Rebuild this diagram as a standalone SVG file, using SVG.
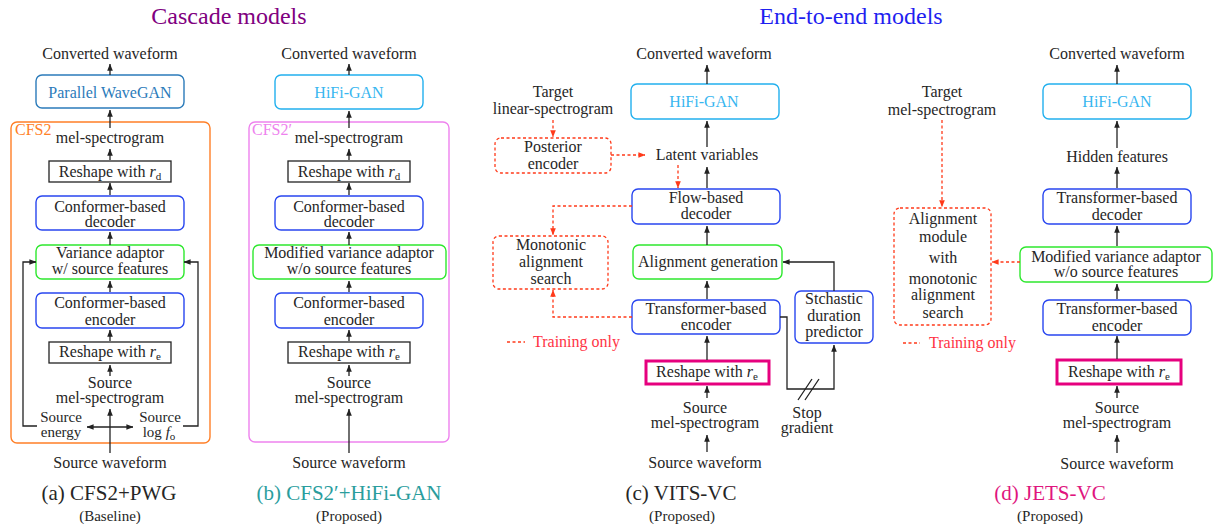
<svg xmlns="http://www.w3.org/2000/svg" width="1214" height="524" viewBox="0 0 1214 524" font-family="'Liberation Serif', 'DejaVu Serif', serif">
<style>
text{font-family:'Liberation Serif','DejaVu Serif',serif;font-size:16px;fill:#262626;text-anchor:middle}
.st{text-anchor:start}
.cap{font-size:21px}
.sub{font-size:15px}
.ttl{font-size:24px}
.sm{font-size:15px}
.box{fill:#fff;stroke-width:1.4}
.blue{stroke:#2846f0}
.green{stroke:#2ee82e}
.cyan{stroke:#22b0ee}
.pwg{stroke:#2b7bba}
.blk{stroke:#222;stroke-width:1.3}
.pink{stroke:#e6007e;stroke-width:3}
.red{fill:#fff;stroke:#ff3a1a;stroke-width:1.3;stroke-dasharray:3 2.5}
.ar{fill:none;stroke:#222;stroke-width:1.3;marker-end:url(#ah)}
.rar{fill:none;stroke:#ff3a1a;stroke-width:1.3;stroke-dasharray:3 2.5;marker-end:url(#rah)}
.ln{fill:none;stroke:#222;stroke-width:1.3}
.i{font-style:italic}
.s{font-size:11px}
</style>
<defs>
<marker id="ah" viewBox="0 0 10 8" refX="9.5" refY="4" markerWidth="7" markerHeight="6" markerUnits="userSpaceOnUse" orient="auto-start-reverse"><path d="M0,0 L10,4 L0,8 z" fill="#222"/></marker>
<marker id="rah" viewBox="0 0 10 8" refX="9.5" refY="4" markerWidth="7" markerHeight="6" markerUnits="userSpaceOnUse" orient="auto"><path d="M0,0 L10,4 L0,8 z" fill="#ff3a1a"/></marker>
</defs>
<rect width="1214" height="524" fill="#fff"/>
<text class="ttl" x="229" y="24" style="fill:#800080">Cascade models</text>
<text class="ttl" x="851" y="24" style="fill:#1f1ff0">End-to-end models</text>

<!-- (a) -->
<g id="a-cfs2"><rect x="11" y="122" width="199" height="321" rx="6" fill="none" stroke="#ff7f27" stroke-width="1.4"/><text class="st" x="15" y="135" style="fill:#ff7f27">CFS2</text></g>
<g id="a-out"><text x="110" y="59">Converted waveform</text></g>
<g id="a-pwg"><rect class="box pwg" x="36" y="75" width="148" height="33" rx="6"/><text x="110" y="98" style="fill:#2b7bba">Parallel WaveGAN</text></g>
<g id="a-mel"><text x="110" y="143">mel-spectrogram</text></g>
<g id="a-rd"><rect class="box blk" x="49" y="161" width="122" height="21"/><text x="110" y="177">Reshape with <tspan class="i">r</tspan><tspan class="s" dy="3">d</tspan></text></g>
<g id="a-dec"><rect class="box blue" x="36" y="196" width="148" height="34" rx="6"/><text x="110" y="212">Conformer-based</text><text x="110" y="227">decoder</text></g>
<g id="a-va"><rect class="box green" x="36" y="245" width="148" height="34" rx="6"/><text x="110" y="258">Variance adaptor</text><text x="110" y="274">w/ source features</text></g>
<g id="a-enc"><rect class="box blue" x="36" y="293" width="148" height="35" rx="6"/><text x="110" y="308">Conformer-based</text><text x="110" y="325">encoder</text></g>
<g id="a-re"><rect class="box blk" x="49" y="342" width="122" height="21"/><text x="110" y="357">Reshape with <tspan class="i">r</tspan><tspan class="s" dy="3">e</tspan></text></g>
<g id="a-src"><text x="110" y="388">Source</text><text x="110" y="403">mel-spectrogram</text></g>
<g id="a-en"><text class="sm" x="61" y="422">Source</text><text class="sm" x="61" y="437">energy</text></g>
<g id="a-f0"><text class="sm" x="160" y="422">Source</text><text class="sm" x="159" y="437">log <tspan class="i">f</tspan><tspan class="s" dy="3">o</tspan></text></g>
<g id="a-wav"><text x="110" y="468">Source waveform</text></g>
<g id="a-cap"><text class="cap" x="109" y="500">(a) CFS2+PWG</text><text class="sub" x="110" y="521">(Baseline)</text></g>

<!-- (b) -->
<g id="b-cfs2"><rect x="249" y="122" width="200" height="320" rx="6" fill="none" stroke="#ee82ee" stroke-width="1.4"/><text class="st" x="252" y="135" style="fill:#ee82ee">CFS2′</text></g>
<g id="b-out"><text x="349" y="59">Converted waveform</text></g>
<g id="b-hifi"><rect class="box cyan" x="275" y="75" width="148" height="34" rx="6"/><text x="349" y="98" style="fill:#38b6f0">HiFi-GAN</text></g>
<g id="b-mel"><text x="349" y="143">mel-spectrogram</text></g>
<g id="b-rd"><rect class="box blk" x="288" y="161" width="122" height="21"/><text x="349" y="177">Reshape with <tspan class="i">r</tspan><tspan class="s" dy="3">d</tspan></text></g>
<g id="b-dec"><rect class="box blue" x="275" y="196" width="148" height="34" rx="6"/><text x="349" y="212">Conformer-based</text><text x="349" y="227">decoder</text></g>
<g id="b-va"><rect class="box green" x="253" y="245" width="193" height="34" rx="6"/><text x="349" y="258">Modified variance adaptor</text><text x="349" y="274">w/o source features</text></g>
<g id="b-enc"><rect class="box blue" x="275" y="293" width="148" height="35" rx="6"/><text x="349" y="308">Conformer-based</text><text x="349" y="325">encoder</text></g>
<g id="b-re"><rect class="box blk" x="288" y="342" width="122" height="21"/><text x="349" y="357">Reshape with <tspan class="i">r</tspan><tspan class="s" dy="3">e</tspan></text></g>
<g id="b-src"><text x="349" y="388">Source</text><text x="349" y="403">mel-spectrogram</text></g>
<g id="b-wav"><text x="349" y="468">Source waveform</text></g>
<g id="b-cap"><text class="cap" x="349" y="500" style="fill:#2a9d9d">(b) CFS2′+HiFi-GAN</text><text class="sub" x="349" y="521">(Proposed)</text></g>

<!-- (c) -->
<g id="c-out"><text x="704" y="59">Converted waveform</text></g>
<g id="c-hifi"><rect class="box cyan" x="631" y="84" width="148" height="35" rx="6"/><text x="704" y="107" style="fill:#38b6f0">HiFi-GAN</text></g>
<g id="c-lat"><text x="707" y="160">Latent variables</text></g>
<g id="c-flow"><rect class="box blue" x="632" y="189" width="148" height="35" rx="6"/><text x="706" y="203">Flow-based</text><text x="706" y="219">decoder</text></g>
<g id="c-ag"><rect class="box green" x="633" y="245" width="149" height="34" rx="6"/><text x="708" y="267">Alignment generation</text></g>
<g id="c-enc"><rect class="box blue" x="632" y="300" width="148" height="34" rx="6"/><text x="706" y="314">Transformer-based</text><text x="706" y="330">encoder</text></g>
<g id="c-re"><rect class="box pink" x="646" y="361" width="123" height="23" fill="#fff"/><text x="707" y="377">Reshape with <tspan class="i">r</tspan><tspan class="s" dy="3">e</tspan></text></g>
<g id="c-src"><text x="705" y="413">Source</text><text x="705" y="428">mel-spectrogram</text></g>
<g id="c-wav"><text x="705" y="468">Source waveform</text></g>
<g id="c-sdp"><rect class="box blue" x="795" y="291" width="78" height="52" rx="6"/><text x="834" y="304">Stchastic</text><text x="834" y="321">duration</text><text x="834" y="337">predictor</text></g>
<g id="c-stop"><text x="807" y="418">Stop</text><text x="807" y="433">gradient</text></g>
<g id="c-tgt"><text x="553" y="97">Target</text><text x="553" y="114">linear-spectrogram</text></g>
<g id="c-post"><rect class="red" x="495" y="138" width="116" height="35" rx="6"/><text x="553" y="152">Posterior</text><text x="553" y="169">encoder</text></g>
<g id="c-mas"><rect class="red" x="493" y="236" width="115" height="53" rx="6"/><text x="551" y="250">Monotonic</text><text x="551" y="267">alignment</text><text x="551" y="284">search</text></g>
<g id="c-leg"><line x1="507" y1="342" x2="525" y2="342" stroke="#ff3a1a" stroke-width="1.3" stroke-dasharray="3 2.5"/><text class="st" x="533" y="347" style="fill:#ff3344">Training only</text></g>
<g id="c-cap"><text class="cap" x="681" y="500">(c) VITS-VC</text><text class="sub" x="682" y="521">(Proposed)</text></g>

<!-- (d) -->
<g id="d-out"><text x="1117" y="59">Converted waveform</text></g>
<g id="d-hifi"><rect class="box cyan" x="1043" y="84" width="148" height="35" rx="6"/><text x="1117" y="107" style="fill:#38b6f0">HiFi-GAN</text></g>
<g id="d-hid"><text x="1117" y="162">Hidden features</text></g>
<g id="d-dec"><rect class="box blue" x="1043" y="189" width="148" height="35" rx="6"/><text x="1117" y="203">Transformer-based</text><text x="1117" y="220">decoder</text></g>
<g id="d-va"><rect class="box green" x="1020" y="247" width="192" height="35" rx="6"/><text x="1116" y="262">Modified variance adaptor</text><text x="1116" y="277">w/o source features</text></g>
<g id="d-enc"><rect class="box blue" x="1043" y="300" width="148" height="35" rx="6"/><text x="1117" y="314">Transformer-based</text><text x="1117" y="331">encoder</text></g>
<g id="d-re"><rect class="box pink" x="1057" y="360" width="124" height="24" fill="#fff"/><text x="1119" y="377">Reshape with <tspan class="i">r</tspan><tspan class="s" dy="3">e</tspan></text></g>
<g id="d-src"><text x="1117" y="413">Source</text><text x="1117" y="428">mel-spectrogram</text></g>
<g id="d-wav"><text x="1117" y="469">Source waveform</text></g>
<g id="d-tgt"><text x="942" y="97">Target</text><text x="942" y="115">mel-spectrogram</text></g>
<g id="d-am"><rect class="red" x="894" y="208" width="97" height="117" rx="6"/><text x="943" y="224">Alignment</text><text x="943" y="242">module</text><text x="943" y="263">with</text><text x="943" y="284">monotonic</text><text x="943" y="300">alignment</text><text x="943" y="318">search</text></g>
<g id="d-leg"><line x1="903" y1="343" x2="920" y2="343" stroke="#ff3a1a" stroke-width="1.3" stroke-dasharray="3 2.5"/><text class="st" x="929" y="348" style="fill:#ff3344">Training only</text></g>
<g id="d-cap"><text class="cap" x="1050" y="500" style="fill:#e0157e">(d) JETS-VC</text><text class="sub" x="1050" y="521">(Proposed)</text></g>

<g id="connectors">
<!-- a -->
<path class="ar" d="M110,75 V64"/>
<path class="ar" d="M110,128 V110"/>
<path class="ar" d="M110,160 V149"/>
<path class="ar" d="M110,195 V183"/>
<path class="ar" d="M110,245 V232"/>
<path class="ar" d="M110,292 V281"/>
<path class="ar" d="M110,341 V330"/>
<path class="ar" d="M110,376 V365"/>
<path class="ar" d="M110,453 V409"/>
<path class="ar" d="M87,427 H133" style="marker-start:url(#ah)"/>
<path class="ar" d="M37,426 H23 V262 H36"/>
<path class="ar" d="M183,426 H198 V262 H184"/>
<!-- b -->
<path class="ar" d="M349,75 V64"/>
<path class="ar" d="M349,128 V111"/>
<path class="ar" d="M349,160 V149"/>
<path class="ar" d="M349,195 V183"/>
<path class="ar" d="M349,245 V232"/>
<path class="ar" d="M349,292 V281"/>
<path class="ar" d="M349,341 V330"/>
<path class="ar" d="M349,376 V365"/>
<path class="ar" d="M349,453 V409"/>
<!-- c -->
<path class="ar" d="M707,84 V65"/>
<path class="ar" d="M707,147 V121"/>
<path class="ar" d="M707,188 V167"/>
<path class="ar" d="M707,245 V226"/>
<path class="ar" d="M707,299 V281"/>
<path class="ar" d="M707,360 V336"/>
<path class="ar" d="M707,398 V386"/>
<path class="ar" d="M707,452 V435"/>
<path class="ar" d="M834,291 V262 H783"/>
<path class="ar" d="M780,317 H787 V389 H834 V345"/>
<path class="ln" d="M798,400 L812,379 M805,400 L819,379"/>
<path class="rar" d="M553,120 V137"/>
<path class="rar" d="M611,155 H645"/>
<path class="rar" d="M678,165 V188"/>
<path class="rar" d="M632,206 H553 V235"/>
<path class="rar" d="M632,317 H553 V290"/>
<!-- d -->
<path class="ar" d="M1117,84 V65"/>
<path class="ar" d="M1117,148 V121"/>
<path class="ar" d="M1117,188 V167"/>
<path class="ar" d="M1117,246 V226"/>
<path class="ar" d="M1117,299 V284"/>
<path class="ar" d="M1117,359 V336"/>
<path class="ar" d="M1117,398 V386"/>
<path class="ar" d="M1117,453 V435"/>
<path class="rar" d="M942,120 V207"/>
<path class="rar" d="M1020,262 H992"/>
</g>
</svg>
